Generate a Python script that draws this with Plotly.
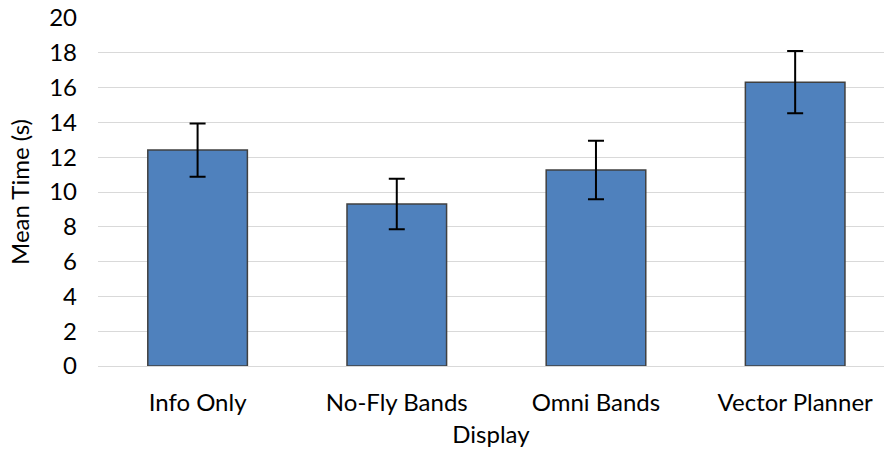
import plotly.graph_objects as go

# ── Data ──────────────────────────────────────────────────────
displays = ["Info Only", "No-Fly Bands", "Omni Bands", "Vector Planner"]
mean_time = [12.41, 9.31, 11.26, 16.31]
err = [1.53, 1.45, 1.68, 1.79]

BAR = "#4F81BD"
GRID = "#D9D9D9"
TXT = "#000000"
FONT = "Lato"

fig = go.Figure(go.Bar(
    x=displays, y=mean_time,
    marker=dict(color=BAR, line=dict(color="#404040", width=1.5)),
    error_y=dict(type="data", array=err, visible=True,
                 color="black", thickness=2, width=8),
    width=0.5,
))

fig.update_layout(
    width=884, height=451,
    paper_bgcolor="white", plot_bgcolor="white",
    margin=dict(l=98, r=0, t=18, b=85, autoexpand=False),
    font=dict(family=FONT, size=24, color=TXT),
    showlegend=False,
)
fig.update_xaxes(
    range=[-0.5, 3.446], automargin=False,
    title_text="Display", title_font=dict(size=24), title_standoff=11,
    ticklabelstandoff=20, showgrid=False, showline=False,
)
fig.update_yaxes(
    range=[0, 20], dtick=2, automargin=False,
    title_text="Mean Time (s)", title_font=dict(size=24), title_standoff=12,
    gridcolor=GRID, gridwidth=1.3, zeroline=True, zerolinecolor=GRID,
    zerolinewidth=1.3, ticklabelstandoff=20, showline=False,
)

# drop the browser's default 8px body margin so the figure fills the window
fig.write_html("out.html", config={"displayModeBar": False},
               post_script="document.body.style.margin='0';")
